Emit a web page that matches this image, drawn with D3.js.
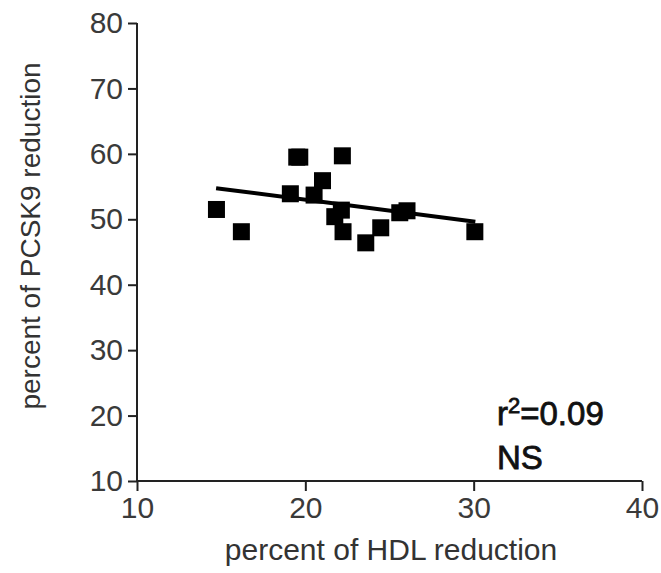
<!DOCTYPE html>
<html>
<head>
<meta charset="utf-8">
<script src="https://cdn.jsdelivr.net/npm/d3@7"></script>
<style>
  body { margin: 0; background: #fff; }
  text { font-family: "Liberation Sans", Arial, sans-serif; fill: #333; }
</style>
</head>
<body>
<div class="chart"></div>
<script>
// values
const hdlReduction = [14.72, 16.20, 19.49, 19.67, 22.20, 19.11, 21.02, 20.52, 21.75, 22.14, 22.24, 23.59, 24.48, 25.61, 26.04, 30.07];
const pcsk9Reduction = [51.5, 48.1, 59.5, 59.5, 59.7, 53.9, 55.9, 53.7, 50.4, 51.4, 48.1, 46.4, 48.7, 51.0, 51.3, 48.1];
const xTicks = [10, 20, 30, 40];
const yTicks = [10, 20, 30, 40, 50, 60, 70, 80];
// fitted line as drawn
const fitSlope = -0.333;
const fitIntercept = 59.65;
const fitRange = [14.7, 30.1];

const width = 661;
const height = 573;
const margin = {top: 23, left: 137, right: 19, bottom: 92};

const svg = d3.select('.chart').append('svg')
  .attr('width', width)
  .attr('height', height);

const x = d3.scaleLinear().domain([10, 40]).range([margin.left, width - margin.right]);
const y = d3.scaleLinear().domain([10, 80]).range([height - margin.bottom, margin.top]);

// axes
const xAxis = svg.append('g')
  .attr('transform', `translate(0,${height - margin.bottom})`)
  .call(d3.axisBottom(x).tickValues(xTicks).tickSize(10).tickSizeOuter(0).tickPadding(6));
const yAxis = svg.append('g')
  .attr('transform', `translate(${margin.left},0)`)
  .call(d3.axisLeft(y).tickValues(yTicks).tickSize(9).tickSizeOuter(0).tickPadding(5));

[xAxis, yAxis].forEach(g => {
  g.selectAll('path, line').attr('stroke', '#222').attr('stroke-width', 2);
  g.selectAll('text').attr('font-size', 30).style('fill', '#3a3a3a');
});
xAxis.select('.domain').attr('d', `M${x(10)},0H${x(40)}`);
yAxis.select('.domain').attr('d', `M0,${y(10)}V${y(80)}`);

// regression line
svg.append('line')
  .attr('x1', x(fitRange[0]))
  .attr('y1', y(fitIntercept + fitSlope * fitRange[0]))
  .attr('x2', x(fitRange[1]))
  .attr('y2', y(fitIntercept + fitSlope * fitRange[1]))
  .attr('stroke', '#000')
  .attr('stroke-width', 4);

// points
const side = 17;
svg.selectAll('rect.pt')
  .data(hdlReduction.map((v, i) => ({hx: v, py: pcsk9Reduction[i]})))
  .enter()
  .append('rect')
  .attr('class', 'pt')
  .attr('x', d => x(d.hx) - side / 2)
  .attr('y', d => y(d.py) - side / 2)
  .attr('width', side)
  .attr('height', side)
  .attr('fill', '#000');

// axis titles
svg.append('text')
  .attr('x', 391)
  .attr('y', 560)
  .attr('text-anchor', 'middle')
  .attr('font-size', 30)
  .text('percent of HDL reduction');

svg.append('text')
  .attr('transform', 'translate(40,236) rotate(-90)')
  .attr('text-anchor', 'middle')
  .attr('font-size', 28)
  .text('percent of PCSK9 reduction');

// annotation
const note = svg.append('text')
  .attr('x', 497)
  .attr('y', 425)
  .attr('font-size', 33)
  .attr('stroke', '#111')
  .attr('stroke-width', 0.8)
  .style('fill', '#111');
note.append('tspan').text('r');
note.append('tspan').attr('font-size', 22).attr('dy', -12).text('2');
note.append('tspan').attr('dy', 12).text('=0.09');

svg.append('text')
  .attr('x', 497)
  .attr('y', 469)
  .attr('font-size', 33)
  .attr('stroke', '#111')
  .attr('stroke-width', 0.8)
  .style('fill', '#111')
  .text('NS');
</script>
</body>
</html>
